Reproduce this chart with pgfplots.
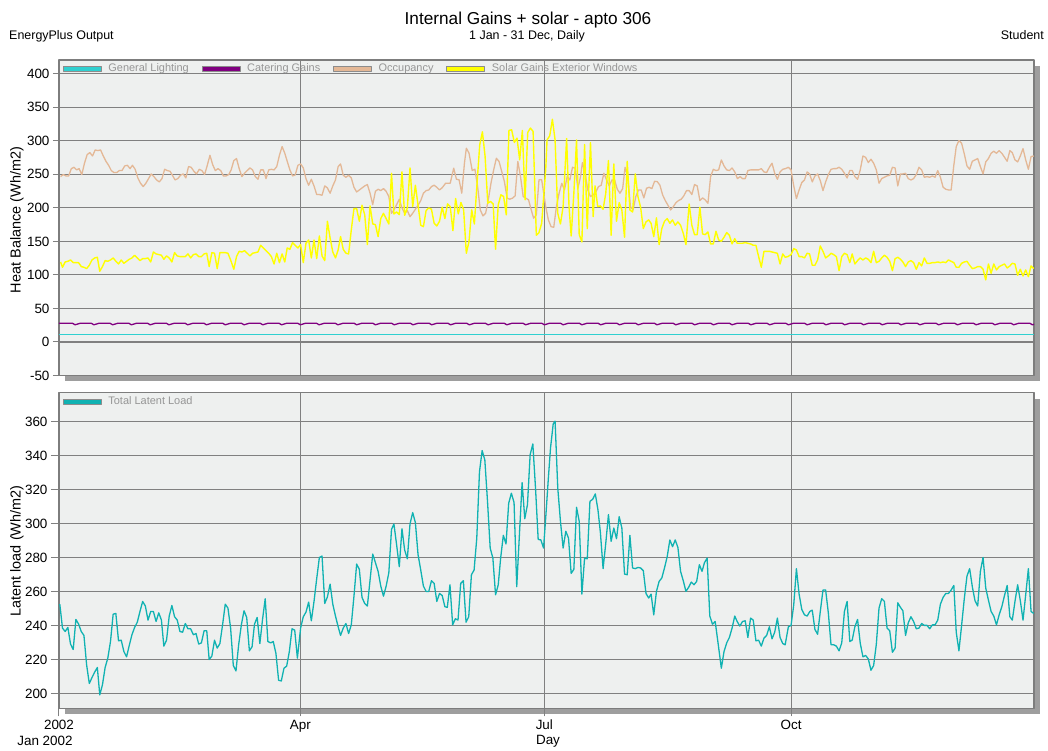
\documentclass[border=0pt]{standalone}
\usepackage{fontspec}
\setmainfont{Liberation Sans}
\usepackage{pgfplots}
\usepackage{pgfplotstable}
\pgfplotsset{compat=1.18}

\definecolor{bgc}{RGB}{238,240,239}
\definecolor{gridc}{RGB}{128,128,128}
\definecolor{framec}{RGB}{125,125,125}
\definecolor{shadowc}{RGB}{158,158,158}
\definecolor{legtext}{RGB}{150,150,150}
\definecolor{lightc}{RGB}{48,208,208}
\definecolor{caterc}{RGB}{128,0,128}
\definecolor{occc}{RGB}{228,184,150}
\definecolor{solarc}{RGB}{255,255,0}
\definecolor{latc}{RGB}{16,178,178}

% Catering gains, one value per day (day 0 = 1 Jan)
\pgfplotstableread[row sep=\\]{
c\\
28\\28\\28\\28\\28\\28\\25.6\\
26.8\\28\\28\\28\\28\\28\\25.6\\
26.8\\28\\28\\28\\28\\28\\25.6\\
26.8\\28\\28\\28\\28\\28\\25.6\\
26.8\\28\\28\\28\\28\\28\\25.6\\
26.8\\28\\28\\28\\28\\28\\25.6\\
26.8\\28\\28\\28\\28\\28\\25.6\\
26.8\\28\\28\\28\\28\\28\\25.6\\
26.8\\28\\28\\28\\28\\28\\25.6\\
26.8\\28\\28\\28\\28\\28\\25.6\\
26.8\\28\\28\\28\\28\\28\\25.6\\
26.8\\28\\28\\28\\28\\28\\25.6\\
26.8\\28\\28\\28\\28\\28\\25.6\\
26.8\\28\\28\\28\\28\\28\\25.6\\
26.8\\28\\28\\28\\28\\28\\25.6\\
26.8\\28\\28\\28\\28\\28\\25.6\\
26.8\\28\\28\\28\\28\\28\\25.6\\
26.8\\28\\28\\28\\28\\28\\25.6\\
26.8\\28\\28\\28\\28\\28\\25.6\\
26.8\\28\\28\\28\\28\\28\\25.6\\
26.8\\28\\28\\28\\28\\28\\25.6\\
26.8\\28\\28\\28\\28\\28\\25.6\\
26.8\\28\\28\\28\\28\\28\\25.6\\
26.8\\28\\28\\28\\28\\28\\25.6\\
26.8\\28\\28\\28\\28\\28\\25.6\\
26.8\\28\\28\\28\\28\\28\\25.6\\
26.8\\28\\28\\28\\28\\28\\25.6\\
26.8\\28\\28\\28\\28\\28\\25.6\\
26.8\\28\\28\\28\\28\\28\\25.6\\
26.8\\28\\28\\28\\28\\28\\25.6\\
26.8\\28\\28\\28\\28\\28\\25.6\\
26.8\\28\\28\\28\\28\\28\\25.6\\
26.8\\28\\28\\28\\28\\28\\25.6\\
26.8\\28\\28\\28\\28\\28\\25.6\\
26.8\\28\\28\\28\\28\\28\\25.6\\
26.8\\28\\28\\28\\28\\28\\25.6\\
26.8\\28\\28\\28\\28\\28\\25.6\\
26.8\\28\\28\\28\\28\\28\\25.6\\
26.8\\28\\28\\28\\28\\28\\25.6\\
26.8\\28\\28\\28\\28\\28\\25.6\\
26.8\\28\\28\\28\\28\\28\\25.6\\
26.8\\28\\28\\28\\28\\28\\25.6\\
26.8\\28\\28\\28\\28\\28\\25.6\\
26.8\\28\\28\\28\\28\\28\\25.6\\
26.8\\28\\28\\28\\28\\28\\25.6\\
26.8\\28\\28\\28\\28\\28\\25.6\\
26.8\\28\\28\\28\\28\\28\\25.6\\
26.8\\28\\28\\28\\28\\28\\25.6\\
26.8\\28\\28\\28\\28\\28\\25.6\\
26.8\\28\\28\\28\\28\\28\\25.6\\
26.8\\28\\28\\28\\28\\28\\25.6\\
26.8\\28\\28\\28\\28\\28\\25.6\\
26.8\\
}\catering

\pgfplotsset{
  myaxis/.style={
    scale only axis, width=975bp, height=315.5bp,
    xmin=0, xmax=363.6,
    axis background/.style={fill=bgc},
    axis line style={framec, line width=1.4bp},
    grid=major, major grid style={gridc, line width=1.1bp},
    tick align=outside, major tick length=6bp,
    tick style={gridc, line width=1bp},
    xtick={0,90,181,273},
    xtick pos=left, ytick pos=left,
    tick label style={font=\fontsize{13.5}{15}\selectfont, text=black},
    /pgf/number format/assume math mode=true,
    legend style={at={(rel axis cs:0,1)}, anchor=north west, xshift=2bp, yshift=-4bp,
      draw=none, fill=none, font=\fontsize{11}{12}\selectfont, text=legtext,
      legend columns=-1, inner sep=0bp, outer sep=0bp,
      nodes={inner sep=0bp},
      /tikz/every odd column/.style={column sep=5bp},
      /tikz/every even column/.style={column sep=11bp}},
    legend cell align=left,
    legend image code/.code={
      \draw[##1, line width=4.4bp] (0bp,0bp) -- (38bp,0bp);
      \draw[black!45, line width=0.7bp] (0bp,-2.6bp) rectangle (38bp,2.6bp);},
    line join=round,
  }
}

\begin{document}
\begin{tikzpicture}
\useasboundingbox (0,0) rectangle (1048bp,751bp);
\fill[white] (0,0) rectangle (1048bp,751bp);

% drop shadows of the two plot frames
\fill[shadowc] (65bp,369.5bp) rectangle (1040bp,685bp);
\fill[shadowc] (65bp,36.7bp) rectangle (1040bp,352.2bp);

% titles
\node[anchor=base, inner sep=0pt, font=\fontsize{17.3}{19}\selectfont] at (528bp,726.5bp) {Internal Gains + solar - apto 306};
\node[anchor=base, inner sep=0pt, font=\fontsize{12.5}{14}\selectfont] at (527bp,711bp) {1 Jan - 31 Dec, Daily};
\node[anchor=base west, inner sep=0pt, font=\fontsize{12.5}{14}\selectfont] at (9bp,711bp) {EnergyPlus Output};
\node[anchor=base east, inner sep=0pt, font=\fontsize{12.5}{14}\selectfont] at (1044bp,711bp) {Student};

% ---------------- top axis ----------------
\begin{axis}[myaxis,
  at={(59bp,375.5bp)}, anchor=south west,
  ymin=-50, ymax=420.5,
  ytick={-50,0,50,100,150,200,250,300,350,400},
  xticklabels={}, x tick style={draw=none},
]
\addplot[lightc, line width=1.2bp] coordinates {(0,11.5) (363.6,11.5)};
\addlegendentry{General Lighting}
\addplot[caterc, line width=1.3bp] table[x expr=\coordindex, y=c] {\catering};
\addlegendentry{Catering Gains}
\addplot[occc, line width=1.3bp] coordinates {
(0.6,246.6)(1.6,249.6)(2.6,247.6)(3.6,247.6)(4.6,258.5)(5.6,260.5)(6.6,256.6)(7.5,258.5)(8.5,249.6)(9.5,266.5)
(10.5,279.4)(11.5,282.4)(12.5,277.4)(13.5,286.4)(14.5,285.4)(15.5,286.4)(16.5,277.4)(17.5,269.5)(18.5,263.5)(19.5,255.6)
(20.5,252.6)(21.5,252.6)(22.5,255.6)(23.5,255.6)(24.5,262.5)(25.5,263.5)(26.5,258.5)(27.4,263.5)(28.4,257.5)(29.4,244.6)
(30.4,236.7)(31.4,231.7)(32.4,236.7)(33.4,243.6)(34.4,250.6)(35.4,246.6)(36.4,241.6)(37.4,238.7)(38.4,243.6)(39.4,257.5)
(40.4,255.6)(41.4,254.6)(42.3,248.6)(43.3,241.6)(44.3,243.6)(45.3,248.6)(46.3,250.6)(47.3,244.6)(48.3,261.5)(49.3,260.5)
(50.3,254.6)(51.3,250.6)(52.3,257.5)(53.3,255.6)(54.3,249.6)(55.3,263.5)(56.3,278.4)(57.3,264.5)(58.3,255.6)(59.3,258.5)
(60.3,255.6)(61.3,247.6)(62.3,247.6)(63.3,249.6)(64.2,256.6)(65.2,270.5)(66.2,273.5)(67.2,258.5)(68.2,246.6)(69.2,251.6)
(70.2,255.6)(71.2,259.5)(72.2,256.6)(73.2,246.6)(74.2,242.6)(75.2,256.6)(76.2,256.6)(77.2,243.6)(78.2,256.6)(79.2,257.5)
(80.2,256.6)(81.2,261.5)(82.2,278.4)(83.2,291.4)(84.2,281.4)(85.1,269.5)(86.1,256.6)(87.1,247.6)(88.1,249.1)(89.1,263.5)
(90.1,265.5)(91.1,259.5)(92.1,243.6)(93.1,233.7)(94.1,242.6)(95.1,232.7)(96.1,219.8)(97.1,219.8)(98.1,218.8)(99.1,232.7)
(100.1,229.7)(101.1,221.8)(102.1,232.7)(103.1,241.6)(104.1,261.5)(105,265.5)(106,248.6)(107,245.6)(108,248.6)(109,244.6)
(110,230.7)(111,223.7)(112,226.7)(113,229.7)(114,232.7)(115,234.7)(116,221.8)(117,204.8)(118,224.7)(119,227.7)
(120,225.7)(121,228.7)(122,224.7)(123,216.8)(124,191.9)(124.9,196.9)(125.9,204.8)(126.9,212.8)(127.9,199.9)(128.9,191.9)
(129.9,195.9)(130.9,186.9)(131.9,191.9)(132.9,197.9)(133.9,203.9)(134.9,210.8)(135.9,221.8)(136.9,225.7)(137.9,226.7)(138.9,231.7)
(139.9,233.7)(140.9,230.7)(141.9,226.7)(142.9,230)(144.2,236.8)(145.9,236.8)(147.2,259.2)(148.2,242.8)(149.2,241.8)(150.2,221.9)
(151.2,266.7)(151.9,289)(152.9,281.6)(154.1,255.7)(155.1,257.7)(156.1,231.8)(157.1,197)(158.1,188)(159.1,192)(160.1,212)
(161.1,236.8)(162.1,256.7)(163.1,274)(164.1,269.2)(165.1,254.2)(166.1,239.3)(167.1,214.4)(168.1,212.9)(169.1,214.4)(170.1,217.9)
(171.1,269.2)(172.1,246.8)(173.1,217)(174.1,214.4)(175.1,212)(176.1,197)(177,184.6)(178,189.6)(179,241.8)(180,241.8)
(181.5,201.9)(182.5,182)(183.5,172)(184.5,171)(185.5,201.9)(186.5,221.8)(187.5,236.7)(188.5,226.7)(189.5,246.6)(190.5,241.6)
(191.5,260.5)(192.5,259)(193.5,229.2)(194.5,246.6)(195.2,267.5)(196.2,251.6)(197.2,226.7)(198.2,216.8)(199.2,219.3)(200.2,223.7)
(201.2,231.7)(202.2,233.7)(203.2,251.6)(204.2,241.6)(205.2,232.7)(206.2,241.6)(207.2,241.6)(208.2,227.7)(209.2,221.8)(210.2,228.7)
(211.1,260.5)(212.1,246.6)(213.1,201.9)(214.1,196.9)(215.1,216.8)(216.1,226.7)(217.1,226.7)(218.1,214.8)(219.1,229.2)(220.1,230.7)
(221.1,228.7)(222.1,239.6)(223.1,239.1)(224.1,233.7)(225.1,219.3)(226.1,210.8)(227.1,203.9)(228.1,196.9)(229.1,201.9)(230.1,207.8)
(231,210.8)(232,212.8)(233,217.8)(234,225.7)(235,225.7)(236,219.8)(237,234.7)(238,232.7)(239,210.8)(240,214.8)
(241,211.8)(242,206.8)(243,246.6)(244,257.5)(245,255.6)(246,256.6)(247,271.5)(248,262.5)(249,256.6)(250,255.6)
(251,259.5)(252,253.6)(253,243.6)(254,246.6)(254.9,243.6)(255.9,243.6)(256.9,255.6)(257.9,256.6)(258.9,256.6)(259.9,256.6)
(260.9,256.6)(261.9,258.5)(262.9,253.6)(263.9,252.6)(264.9,260.5)(265.9,266.5)(266.9,251.6)(267.9,242.6)(268.9,253.6)(269.9,257.5)
(270.9,258.5)(272,260.5)(273,256.6)(274,232.7)(275,213.8)(276,226.7)(277,237.7)(278,241.6)(279,253.6)(279.9,250.6)
(280.9,238.7)(281.9,247.6)(282.9,250.6)(283.9,240.6)(284.9,225.7)(285.9,238.7)(286.9,249.6)(287.9,257.5)(288.9,258.5)(289.9,258.5)
(290.9,260.5)(291.9,257.5)(292.9,251.6)(293.9,244.6)(294.9,255.6)(295.8,255.6)(296.8,246.6)(297.8,242.6)(298.8,256.6)(299.8,277.4)
(300.8,275.4)(301.8,267.5)(302.8,272.5)(303.8,266.5)(304.8,256.6)(305.8,236.7)(306.8,243.6)(307.8,245.6)(308.8,247.6)(309.8,248.6)
(310.8,260.5)(311.8,259.5)(312.8,232.7)(313.8,250.6)(314.7,250.6)(315.7,251.6)(316.7,243.6)(317.7,241.6)(318.7,243.6)(319.7,249.6)
(320.7,260.5)(321.7,256.6)(322.7,245.6)(323.7,246.6)(324.7,245.6)(325.7,247.6)(326.7,245.6)(327.7,255.6)(328.7,245.6)(329.7,230.7)
(330.7,227.7)(331.7,226.7)(332.7,226.7)(333.7,263.5)(334.6,291.4)(335.6,300.3)(336.6,296.3)(337.6,280.4)(338.6,262.5)(339.6,257.5)
(340.6,269.5)(341.6,271.5)(342.6,273.5)(343.6,261.5)(344.6,250.6)(345.6,268.5)(346.6,273.5)(347.6,281.4)(348.6,284.4)(349.6,281.4)
(350.6,285.4)(351.6,281.4)(352.6,275.4)(353.6,269.5)(354.6,285.4)(355.5,282.4)(356.5,271.5)(357.5,268.5)(358.5,277.4)(359.5,288.4)
(360.5,271.5)(361.5,257.5)(362.5,276.4)(363.5,277.4)
};
\addlegendentry{Occupancy}
\addplot[solarc, line width=1.4bp] coordinates {
(0.6,119.3)(1.3,111.4)(2.3,119.3)(3.3,120.3)(4.3,122.3)(5.3,118.3)(6.3,118.3)(7.3,118.3)(8.3,112.4)(9.3,111.4)
(10.3,109.4)(11.3,114.4)(12.3,122.3)(13.3,125.3)(14.3,126.3)(15.2,105.4)(16.2,112.4)(17.2,121.3)(18.2,120.3)(19.2,122.3)
(20.2,125.3)(21.2,120.3)(22.2,116.3)(23.2,122.3)(24.2,117.3)(25.2,120.3)(26.2,123.3)(27.2,125.3)(28.2,129.3)(29.2,125.3)
(30.2,121.3)(31.2,124.3)(32.2,124.3)(33.2,125.3)(34.2,119.3)(35.2,134.2)(36.2,131.3)(37.2,130.3)(38.2,129.3)(39.1,123.3)
(40.1,128.3)(41.1,125.3)(42.1,119.3)(43.1,133.2)(44.1,128.3)(45.1,127.3)(46.1,127.3)(47.1,127.3)(48.1,131.3)(49.1,125.3)
(50.1,130.3)(51.1,131.3)(52.1,127.3)(53.1,127.3)(54.1,131.3)(55.1,132.3)(56,112.4)(57,133.2)(58,132.3)(59,109.4)
(60,133.2)(61,133.2)(62,133.2)(63,132.3)(64,122.3)(65.2,108.4)(66.2,127.3)(67.2,135.2)(68.2,134.2)(69.2,136.2)
(70.2,132.3)(71.2,128.3)(72.2,132.3)(73.2,133.2)(74.2,134.2)(75.2,144.2)(76.2,140.2)(77.2,136.2)(78.2,132.3)(79.2,127.3)
(80.2,116.3)(81.2,132.3)(82.2,118.3)(83.2,131.3)(84.2,119.3)(85.1,140.2)(86.1,138.2)(87.1,148.2)(88.1,144.2)(89.1,140.2)
(90.1,145.2)(91.1,118.3)(92.1,147.2)(93.1,152.1)(94.1,125.3)(95.1,152.1)(96.1,124.3)(97.1,158.1)(98.1,128.3)(99.1,121.3)
(100.1,180)(101.1,155.1)(102.1,134.2)(103.1,125.3)(104.1,137.2)(105,157.1)(106,138.2)(107,132.3)(108,131.3)(109,167.1)
(110,198.9)(111,198.9)(112,180)(113,203.9)(114,189.9)(115,145.2)(116,202.9)(117,176)(118,175)(119,157.1)
(120,184)(121,191.9)(122,184)(123,176)(124,251.6)(124.9,190.9)(125.9,193.9)(126.9,189.9)(127.9,253.6)(128.9,188.9)
(129.9,199.9)(130.9,259.5)(131.9,201.9)(132.9,233.7)(133.9,203.9)(134.9,174)(135.9,172)(136.9,195.9)(137.9,199.9)(138.9,197.9)
(139.9,177)(140.9,173)(141.9,180)(142.9,201)(143.9,184)(144.9,206)(145.9,202)(146.9,166)(147.9,214)(148.9,191)
(149.9,208)(150.9,197)(151.9,132.3)(152.9,149.8)(153.9,197)(154.9,176)(155.9,236.8)(156.9,294)(157.9,313.4)(158.9,276.6)
(159.9,207)(160.9,209.5)(161.9,206)(162.8,138.3)(163.8,204.5)(164.8,219.4)(165.8,217)(166.8,189.6)(167.8,315.4)(168.8,316.4)
(169.8,297.5)(170.8,304)(171.8,271.6)(172.8,315.4)(173.8,212)(174.8,312.4)(175.8,319)(176.8,314)(178,159.2)(179,163.2)
(180,177)(181.5,256.6)(182,301.3)(183,307.3)(184,332.1)(185,301.3)(186,191.9)(187,176)(188,201.9)(189.3,303.3)
(190.2,201.9)(191,158.1)(192,221.8)(193,301.3)(194,160.1)(195,149.2)(196,294.3)(197,169.1)(198.2,297.3)(199.2,186.9)
(199.9,232.7)(200.9,201.9)(201.9,202.9)(202.9,197.9)(203.9,221.8)(204.9,270.5)(205.9,159.1)(206.9,265.5)(207.9,180)(208.9,207.8)
(209.9,196.9)(210.9,156.1)(211.9,269.5)(212.9,196.9)(213.9,193.9)(214.9,250.6)(215.9,216.8)(216.9,200.9)(217.9,169.1)(218.9,179)
(219.9,182)(220.8,177)(221.8,157.1)(222.8,185)(223.8,145.2)(224.8,169.1)(225.8,180)(226.8,184)(227.8,177)(228.8,182)
(229.8,174)(230.8,179)(231.8,174)(232.8,162.1)(233.8,145.2)(235,205.8)(236,174)(237,160.1)(238,160.1)(239,200.9)
(240,161.1)(241,160.1)(242,164.1)(243,146.2)(244,146.2)(245,165.1)(246,152.1)(247,150.2)(248,156.1)(249,163.1)
(250,159.1)(251,146.2)(252,154.1)(252.9,147.2)(253.9,147.2)(254.9,147.2)(255.9,148.2)(256.9,147.2)(257.9,146.2)(258.9,144.2)
(259.9,144.2)(260.9,127.3)(261.9,111.4)(262.9,135.2)(263.9,135.2)(264.9,135.2)(265.9,134.2)(266.9,133.2)(267.9,132.3)(268.9,116.3)
(269.9,131.3)(270.8,126.3)(271.8,127.3)(273,130.3)(274,139.2)(275,137.2)(276,127.3)(277,127.3)(278,125.3)(279,132.3)
(279.9,131.3)(280.9,114.4)(281.9,114.4)(282.9,122.3)(283.9,143.2)(284.9,135.2)(285.9,125.3)(286.9,128.3)(287.9,132.3)(288.9,130.3)
(289.9,127.3)(290.9,106.4)(291.9,127.3)(292.9,132.3)(293.9,130.3)(294.9,118.3)(295.8,131.3)(296.8,116.3)(297.8,121.3)(298.8,125.3)
(299.8,122.3)(300.8,125.3)(301.8,123.3)(302.8,118.3)(303.8,135.2)(304.8,118.3)(305.8,120.3)(306.8,125.3)(307.8,129.3)(308.8,126.3)
(309.8,120.3)(310.8,106.4)(311.8,124.3)(312.8,126.3)(313.8,123.3)(314.7,119.3)(315.7,112.4)(316.7,119.3)(317.7,121.3)(318.7,118.3)
(319.7,108.4)(320.7,118.3)(321.7,113.4)(322.7,125.3)(323.7,117.3)(324.7,117.3)(325.7,118.3)(326.7,118.3)(327.7,119.3)(328.7,118.3)
(329.7,119.3)(330.7,118.3)(331.7,122.3)(332.7,120.3)(333.7,118.3)(334.6,111.4)(335.6,111.4)(336.6,117.3)(337.6,119.3)(338.6,120.3)
(339.6,114.4)(340.6,109.4)(341.6,110.4)(342.6,112.4)(343.6,112.4)(344.6,108.4)(345.6,92.5)(346.6,116.3)(347.6,102.4)(348.6,116.3)
(349.6,107.4)(350.6,112.4)(351.6,114.4)(352.6,116.3)(353.6,110.4)(354.6,113.4)(355.5,117.3)(356.5,116.3)(357.5,99.4)(358.5,108.4)
(359.5,98.4)(360.5,107.4)(361.5,97.4)(362.5,113.4)(363.5,109.4)
};
\addlegendentry{Solar Gains Exterior Windows}
\end{axis}

% ---------------- bottom axis ----------------
\begin{axis}[myaxis,
  at={(59bp,42.7bp)}, anchor=south west,
  ymin=191.4, ymax=377.1,
  ytick={200,220,240,260,280,300,320,340,360},
  xticklabels={2002,Apr,Jul,Oct},
  major tick length=8bp,
]
\addplot[latc, line width=1.3bp] coordinates {
(0.3,252.7)(1.3,238.6)(2.3,236.6)(3.3,239)(4.3,229.2)(5.3,226)(6.3,243.7)(7.3,241)(8.3,236.6)(9.3,234.3)
(10.3,217)(11.3,206)(12.3,209.5)(13.3,212.7)(14.3,215.4)(15.2,199.3)(16.2,205.2)(17.2,215.4)(18.2,220.9)(19.2,230.7)
(20.2,246.8)(21.2,247.2)(22.2,231.1)(23.2,231.5)(24.2,224.8)(25.2,221.7)(26.2,228.4)(27.2,234.7)(28.2,239)(29.2,242.1)
(30.2,248.4)(31.2,254.3)(32.2,251.6)(33.2,243.3)(34.2,248.4)(35.2,248.4)(36.2,242.5)(37.2,247.6)(38.2,243.3)(39.1,228)
(40.1,231.5)(41.1,245.7)(42.1,251.9)(43.1,245.3)(44.1,243.3)(45.1,236.6)(46.1,236.2)(47.1,241.3)(48.1,238.2)(49.1,238.2)
(50.1,234.7)(51.1,235.4)(52.1,229.2)(53.1,229.9)(54.1,237)(55.1,237)(56,220.1)(57,222.1)(58,231.5)(59,226.8)
(60,229.5)(61,240.5)(62,252.7)(63,250.4)(64,238.6)(65,216.6)(66,213.4)(67,228.8)(68,240.5)(69,248.8)
(70,244.9)(71,225.2)(72,227.6)(72.9,240.9)(73.9,244.9)(74.9,229.5)(75.9,243.7)(76.9,255.9)(77.9,230.7)(78.9,229.9)
(79.9,230.7)(80.9,223.7)(81.9,207.9)(82.9,207.5)(83.9,215)(84.9,216.2)(85.9,224.8)(86.9,238.2)(87.9,237.4)(88.9,220.9)
(90.1,238.6)(91.1,245.3)(92.1,248)(93.1,253.9)(94.1,242.9)(95.1,254.3)(96.1,267.7)(97.1,280.2)(98.1,281)(99.1,253.1)
(100.1,257)(101.1,264.5)(102.1,252.7)(103.1,245.7)(104.1,239.4)(105,234.3)(106,238.6)(107,241.3)(108,235.4)(109,240.5)
(110,257.4)(111,276.3)(112,273.2)(113,256.7)(114,253.1)(115,251.6)(116,266.9)(117,282.2)(118,277.1)(119,272)
(120,263.3)(121,257.4)(122,263.3)(123,271.2)(124,296.7)(124.9,299.9)(125.9,287.7)(126.9,274.7)(127.9,297.1)(128.9,284.6)
(129.9,279.4)(130.9,299.9)(131.9,306.6)(132.9,300.7)(133.9,281.8)(134.9,272.8)(135.9,263.3)(136.9,260.2)(137.9,260.2)(138.9,266.5)
(139.9,264.9)(140.9,254.3)(141.9,259)(142.9,257.8)(143.9,251.2)(144.8,250.8)(145.8,264.1)(146.8,240.5)(147.8,244.1)(148.8,243.3)
(149.8,264.9)(150.8,266.5)(151.8,242.1)(152.8,245.3)(153.8,270)(154.8,272.8)(155.8,291.6)(156.8,330.5)(157.8,343.1)(158.8,337.6)
(159.8,313.2)(160.8,285.7)(161.8,279.8)(162.8,258.2)(163.8,264.1)(164.7,279.8)(165.7,293.2)(166.7,288.1)(167.7,312.1)(168.7,318)
(169.7,312.5)(170.7,263)(171.7,293.6)(172.7,324.2)(173.7,303)(174.7,311.3)(175.7,340.7)(176.7,347)(177.7,321.1)(178.7,290.8)
(179.7,290.5)(180.7,285.7)(181.5,303.4)(182.5,327)(183.3,344.7)(184.3,358.8)(185,360.4)(186,321.1)(187,301.5)(188,285.7)
(189,295.6)(190,291.6)(191,270.8)(192,273.2)(193,309.7)(194,301.5)(195,258.6)(196,279.8)(197,279.4)(198,313.2)
(199,314.4)(200,317.6)(201,308.1)(201.9,294.8)(202.9,273.6)(203.9,288.5)(204.9,305.4)(205.9,289.7)(206.9,297.5)(207.9,291.2)
(208.9,304.2)(209.9,297.5)(210.9,270.4)(211.9,270)(212.9,293.2)(213.9,274)(214.9,273.6)(215.9,274.3)(216.9,274)(217.9,272.4)
(218.9,259)(219.9,256.3)(220.8,258.6)(221.8,246.4)(222.8,260.2)(223.8,266.1)(224.8,268.1)(225.8,274)(226.8,280.6)(227.8,290.5)
(228.8,286.5)(229.8,290.5)(230.8,286.1)(231.8,272)(232.8,266.5)(233.8,260.2)(234.8,262.6)(235.8,265.7)(236.8,264.1)(237.8,266.1)
(238.8,275.9)(239.8,272)(240.7,277.1)(241.7,279.8)(242.7,245.7)(243.7,240.9)(244.7,242.5)(245.7,230.7)(247,215)(248,224.8)
(249,229.9)(250,233.1)(251,238.6)(252,245.7)(252.9,242.5)(253.9,239.8)(254.9,242.5)(255.9,242.9)(256.9,233.1)(257.9,244.5)
(258.9,243.3)(259.9,231.1)(260.9,231.5)(261.9,228)(262.9,232.7)(263.9,234.3)(264.9,239.4)(265.9,232.3)(266.9,236.2)(267.9,244.5)
(268.9,233.1)(269.9,229.5)(270.8,228.8)(272,239.4)(273,240.2)(274,252.3)(275,273.6)(276,258.6)(277,249.6)(278,246.4)
(279,245.7)(280,248.4)(280.9,249.2)(281.9,237.8)(282.9,235)(283.9,248.4)(284.9,261)(285.9,261)(286.9,247.6)(287.9,228.8)
(288.9,228.8)(289.9,228)(290.9,225.2)(291.9,229.9)(292.9,248.4)(293.9,254.3)(294.9,230.7)(295.8,231.5)(296.8,239.4)(297.8,243.7)
(298.8,229.7)(299.8,221.7)(300.8,222.5)(301.8,220.5)(302.8,213.8)(303.8,216.6)(304.8,229.2)(305.8,250.4)(306.8,255.9)(307.8,254.3)
(308.8,238.6)(309.8,237)(310.8,224.4)(311.8,226.8)(312.8,253.5)(313.8,250.8)(314.7,248.8)(315.7,234.3)(316.7,241.7)(317.7,245.3)
(318.7,242.5)(319.7,238.2)(320.7,238.6)(321.7,241.3)(322.7,240.2)(323.7,240.2)(324.7,238.2)(325.7,240.5)(326.7,240.5)(327.7,243.3)
(328.7,252.7)(329.7,256.7)(330.7,259)(331.7,259)(332.7,261)(333.7,263.7)(334.6,236.2)(335.6,225.2)(336.6,240.2)(337.6,255.9)
(338.6,269.2)(339.6,273.6)(340.6,262.9)(341.6,254.7)(342.6,251.6)(343.6,272)(344.6,280.2)(345.6,262.2)(346.6,255.1)(347.6,248.4)
(348.6,245.7)(349.6,240.5)(350.6,246.4)(351.6,251.2)(352.6,257.8)(353.6,263.7)(354.6,245.3)(355.5,243.3)(356.5,254.3)(357.5,264.1)
(358.5,254.7)(359.5,243.3)(360.5,258.2)(361.5,273.6)(362.5,248.4)(363.5,247.2)
};
\addlegendentry{Total Latent Load}
\end{axis}

% axis titles
\node[rotate=90, inner sep=0pt, font=\fontsize{14.5}{16}\selectfont] at (17bp,531bp) {Heat Balance (Wh/m2)};
\node[rotate=90, inner sep=0pt, font=\fontsize{14.5}{16}\selectfont] at (17bp,200bp) {Latent load (Wh/m2)};
\node[anchor=base, inner sep=0pt, font=\fontsize{13.5}{15}\selectfont] at (45bp,6bp) {Jan 2002};
\node[anchor=base, inner sep=0pt, font=\fontsize{13.5}{15}\selectfont] at (548bp,7bp) {Day};
\end{tikzpicture}
\end{document}
